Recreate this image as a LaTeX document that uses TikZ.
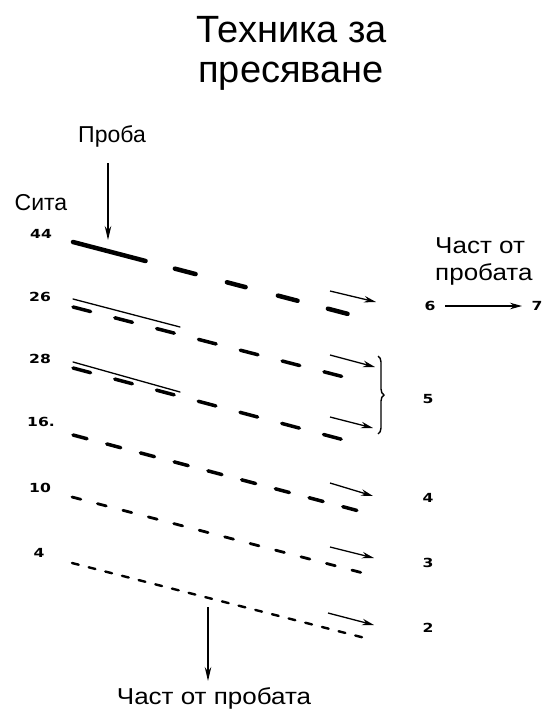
\documentclass[tikz,border=0pt]{standalone}
\usepackage{fontspec}
\setmainfont{Liberation Sans}
\newfontfamily\numfont{DejaVu Sans}
\usetikzlibrary{arrows.meta,decorations.pathreplacing,calc}
\begin{document}
\begin{tikzpicture}[x=1pt,y=-1pt,
  titlef/.style={font=\fontsize{38}{42}\selectfont, inner sep=0pt, anchor=base},
  lab/.style={font=\fontsize{23}{27}\selectfont, inner sep=0pt, anchor=base},
  widelab/.style={lab, xscale=1.13},
  num/.style={font=\fontsize{12.5}{14}\selectfont\numfont\bfseries, inner sep=0pt, xscale=1.25},
  feed/.style={-{Stealth[length=12pt,width=6.5pt]}, line width=1.3pt},
  bigfeed/.style={-{Stealth[length=14pt,width=6.5pt]}, line width=1.5pt},
  thinline/.style={line width=1.3pt, line cap=round},
  sieve/.style={line cap=round},
]
\useasboundingbox (0,0) rectangle (543,709);

% title
\node[titlef] (t1) at (292,43) {Техника за};
\node[titlef] (t2) at (291,82) {пресяване};

% labels
\node[lab] (proba) at (112,142) {Проба};
\node[lab] (sita) at (41,210) {Сита};
\node[widelab, anchor=base west] (ch1) at (435,253) {Част от};
\node[widelab, anchor=base west] (ch2) at (435,280) {пробата};
\node[widelab] (bottom) at (214,704) {Част от пробата};

% sieve numbers
\node[num] (n44) at (41,234) {44};
\node[num] (n26) at (40,297) {26};
\node[num] (n28) at (40,359) {28};
\node[num] (n16) at (41,422) {16.};
\node[num] (n10) at (40,488) {10};
\node[num] (n4)  at (39,553) {4};

% fraction numbers
\node[num] (f6) at (430,306) {6};
\node[num] (f7) at (537,306) {7};
\node[num] (f5) at (428,399) {5};
\node[num] (f4) at (428,498) {4};
\node[num] (f3) at (428,563) {3};
\node[num] (f2) at (428,628) {2};

% row endpoints
\coordinate (r44a) at (73,242);  \coordinate (r44b) at (352,315);
\coordinate (r26a) at (73,307);  \coordinate (r26b) at (348,378);
\coordinate (r28a) at (73,368);  \coordinate (r28b) at (348,441);
\coordinate (r16a) at (73,435);  \coordinate (r16b) at (359,511);
\coordinate (r10a) at (72,497);  \coordinate (r10b) at (363,573);
\coordinate (r4a)  at (72,563);  \coordinate (r4b)  at (365,638);
\coordinate (t26a) at (73,299);  \coordinate (t26b) at (180,327);
\coordinate (t28a) at (73,362);  \coordinate (t28b) at (180,392);

% sieves
\draw[sieve, line width=4.5pt, dash pattern=on 75 off 30.3 on 21.4 off 32.4 on 19.3 off 33.4 on 20.3 off 31.4 on 20.3 off 40] (r44a) -- (r44b);
\draw[sieve, line width=3.5pt, dash pattern=on 18.2 off 25] (r26a) -- (r26b);
\draw[thinline] (t26a) -- (t26b);
\draw[sieve, line width=3.5pt, dash pattern=on 18.2 off 25] (r28a) -- (r28b);
\draw[thinline] (t28a) -- (t28b);
\draw[sieve, line width=3.5pt, dash pattern=on 14.5 off 20.4] (r16a) -- (r16b);
\draw[sieve, line width=2.8pt, dash pattern=on 9.1 off 17.2] (r10a) -- (r10b);
\draw[sieve, line width=2.4pt, dash pattern=on 6.9 off 10.3] (r4a) -- (r4b);

% output arrows
\coordinate (a44a) at (330,291); \coordinate (a44b) at (376,302);
\coordinate (a26a) at (330,355); \coordinate (a26b) at (375,367);
\coordinate (a28a) at (330,417); \coordinate (a28b) at (373,428);
\coordinate (a16a) at (330,483); \coordinate (a16b) at (373,496);
\coordinate (a10a) at (330,547); \coordinate (a10b) at (374,558);
\coordinate (a4a)  at (328,613); \coordinate (a4b)  at (374,625);
\foreach \r in {44,26,28,16,10,4} \draw[feed] (a\r a) -- (a\r b);

% brace
\coordinate (bra) at (378,356); \coordinate (brb) at (378,434);
\draw[line width=1.4pt, decorate, decoration={brace, amplitude=6pt}] (bra) -- (brb);

% 6 -> 7
\coordinate (s67) at (445,306); \coordinate (e67) at (522,306);
\draw[feed] (s67) -- (e67);

% sample in / out
\coordinate (pin) at (108,163); \coordinate (pend) at (108,240);
\draw[bigfeed] (pin) -- (pend);
\coordinate (oin) at (208,607); \coordinate (oend) at (208,681);
\draw[bigfeed] (oin) -- (oend);
\end{tikzpicture}
\end{document}
